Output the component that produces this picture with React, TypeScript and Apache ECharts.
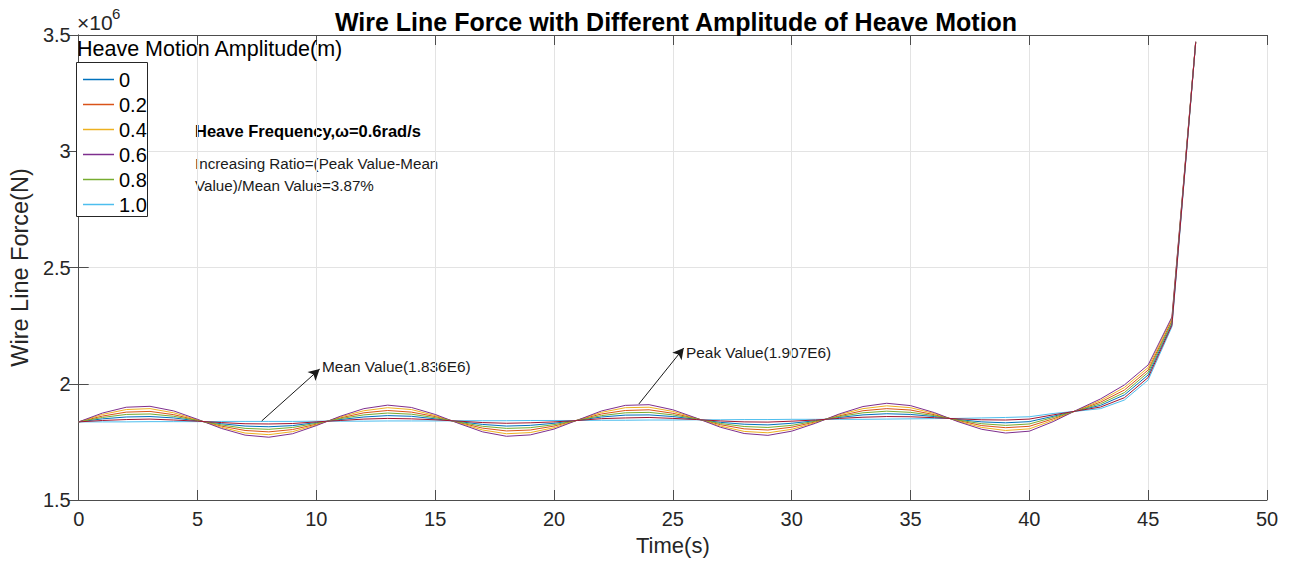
import React, { useEffect, useRef } from "react";
import * as echarts from "echarts";

const FONT = "'Liberation Sans', Arial, Helvetica, sans-serif";
const TXT = "#262626";

const times = [0,1,2,3,4,5,6,7,8,9,10,11,12,13,14,15,16,17,18,19,20,21,22,23,24,25,26,27,28,29,30,31,32,33,34,35,36,37,38,39,40,41,42,43,44,45,46,47];

// values in units of 1e6 N
const seriesBlue = [1.836,1.849,1.857,1.859,1.853,1.840,1.828,1.818,1.815,1.820,1.833,1.846,1.857,1.863,1.860,1.849,1.837,1.825,1.818,1.821,1.830,1.843,1.857,1.865,1.866,1.859,1.847,1.834,1.826,1.823,1.830,1.841,1.855,1.866,1.871,1.868,1.859,1.846,1.836,1.832,1.837,1.860,1.884,1.907,1.952,2.038,2.259,3.469];
const seriesOrange = [1.836,1.861,1.878,1.881,1.867,1.843,1.818,1.799,1.793,1.803,1.826,1.853,1.875,1.885,1.878,1.859,1.833,1.809,1.797,1.801,1.818,1.844,1.870,1.885,1.888,1.873,1.850,1.824,1.806,1.801,1.813,1.836,1.862,1.884,1.893,1.887,1.867,1.842,1.820,1.811,1.817,1.849,1.885,1.921,1.973,2.059,2.273,3.470];
const seriesYellow = [1.836,1.868,1.889,1.893,1.875,1.845,1.813,1.788,1.781,1.794,1.823,1.857,1.884,1.897,1.889,1.863,1.831,1.801,1.785,1.790,1.811,1.844,1.877,1.897,1.899,1.881,1.851,1.818,1.795,1.789,1.804,1.833,1.867,1.893,1.905,1.897,1.872,1.839,1.812,1.799,1.806,1.843,1.886,1.928,1.984,2.070,2.281,3.471];
const seriesPurple = [1.836,1.874,1.899,1.903,1.883,1.847,1.808,1.779,1.770,1.785,1.820,1.860,1.893,1.908,1.898,1.868,1.829,1.793,1.774,1.780,1.805,1.844,1.883,1.907,1.910,1.888,1.852,1.813,1.786,1.778,1.796,1.830,1.870,1.902,1.916,1.906,1.876,1.837,1.804,1.788,1.796,1.837,1.887,1.935,1.995,2.081,2.287,3.472];
const seriesGreen = [1.836,1.855,1.868,1.870,1.860,1.842,1.823,1.808,1.804,1.812,1.830,1.850,1.866,1.874,1.869,1.854,1.835,1.817,1.808,1.811,1.824,1.843,1.863,1.875,1.877,1.866,1.849,1.829,1.816,1.812,1.821,1.839,1.859,1.875,1.882,1.877,1.863,1.844,1.828,1.821,1.827,1.855,1.884,1.914,1.962,2.049,2.266,3.469];
const seriesCyan = [1.836,1.836,1.836,1.837,1.837,1.837,1.838,1.838,1.838,1.838,1.839,1.839,1.839,1.840,1.840,1.840,1.841,1.841,1.841,1.842,1.842,1.842,1.843,1.843,1.844,1.844,1.845,1.845,1.846,1.846,1.847,1.847,1.847,1.847,1.848,1.849,1.850,1.851,1.853,1.855,1.858,1.872,1.882,1.893,1.930,2.016,2.245,3.467];
const seriesDarkRed = [1.836,1.842,1.846,1.848,1.844,1.839,1.833,1.828,1.827,1.829,1.836,1.842,1.848,1.851,1.849,1.845,1.839,1.833,1.830,1.832,1.836,1.842,1.850,1.853,1.855,1.851,1.846,1.840,1.836,1.835,1.839,1.844,1.851,1.856,1.859,1.858,1.854,1.849,1.845,1.844,1.848,1.866,1.883,1.900,1.940,2.027,2.252,3.468];

const legendNames = ["0", "0.2", "0.4", "0.6", "0.8", "1.0"];
const yTicks = [1.5, 2, 2.5, 3, 3.5];
const xTicks = [0, 5, 10, 15, 20, 25, 30, 35, 40, 45, 50];

// annotation arrows [x, y(1e6 N)] start -> end
const meanArrow = [[7.70, 1.840], [10.14, 2.063]];
const peakArrow = [[23.57, 1.913], [25.46, 2.154]];

const seriesDefs = [
  { name: "0", color: "#0072BD", data: seriesBlue },
  { name: "0.2", color: "#D95319", data: seriesOrange },
  { name: "0.4", color: "#EDB120", data: seriesYellow },
  { name: "0.6", color: "#7E2F8E", data: seriesPurple },
  { name: "0.8", color: "#77AC30", data: seriesGreen },
  { name: "1.0", color: "#4DBEEE", data: seriesCyan },
  { name: "amp-extra", color: "#A2142F", data: seriesDarkRed },
];

export default function App() {
  const ref = useRef<HTMLDivElement>(null);
  useEffect(() => {
    if (!ref.current) return;
    const chart = echarts.init(ref.current, null, { renderer: "svg" });
    const axisColor = "#4d4d4d";
    const series: any[] = seriesDefs.map((s) => ({
      name: s.name,
      type: "line",
      symbol: "none",
      showSymbol: false,
      data: times.map((t, i) => [t, s.data[i]]),
      lineStyle: { color: s.color, width: 1 },
      itemStyle: { color: s.color },
      emphasis: { disabled: true },
    }));
    series[5].markLine = {
      silent: true,
      symbol: ["none", "arrow"],
      symbolSize: [9, 11],
      label: { show: false },
      lineStyle: { color: "#1a1a1a", width: 1, type: "solid" },
      data: [
        [{ coord: meanArrow[0] }, { coord: meanArrow[1] }],
        [{ coord: peakArrow[0] }, { coord: peakArrow[1] }],
      ],
    };
    chart.setOption({
      animation: false,
      backgroundColor: "#ffffff",
      textStyle: { fontFamily: FONT },
      title: {
        text: "Wire Line Force with Different Amplitude of Heave Motion",
        left: 671,
        textAlign: "center",
        top: 4,
        textStyle: { fontFamily: FONT, fontSize: 25, fontWeight: "bold", color: "#000" },
      },
      grid: { left: 76, right: 25, top: 35, bottom: 67 },
      legend: {
        data: legendNames,
        orient: "vertical",
        left: 83,
        top: 67,
        z: 6,
        icon: "rect",
        itemWidth: 31,
        itemHeight: 1.5,
        itemGap: 0,
        padding: 0,
        selectedMode: false,
        textStyle: { fontFamily: FONT, fontSize: 20, color: "#000", lineHeight: 25 },
      },
      xAxis: [
        {
          type: "value",
          min: 0,
          max: 50,
          interval: 5,
          name: "Time(s)",
          nameLocation: "middle",
          nameGap: 34,
          nameTextStyle: { fontFamily: FONT, fontSize: 22, color: TXT },
          axisLine: { show: true, lineStyle: { color: axisColor, width: 1 } },
          axisTick: { show: true, inside: true, length: 10, lineStyle: { color: axisColor } },
          axisLabel: { fontFamily: FONT, fontSize: 20, color: TXT, margin: 9 },
          splitLine: { show: true, lineStyle: { color: "#e3e3e3", width: 1 } },
        },
        {
          type: "value",
          position: "top",
          min: 0,
          max: 50,
          interval: 5,
          axisLine: { show: true, lineStyle: { color: axisColor, width: 1 } },
          axisTick: { show: true, inside: true, length: 10, lineStyle: { color: axisColor } },
          axisLabel: { show: false },
          splitLine: { show: false },
        },
      ],
      yAxis: [
        {
          type: "value",
          min: 1.5,
          max: 3.5,
          interval: 0.5,
          name: "Wire Line Force(N)",
          nameLocation: "middle",
          nameGap: 40,
          nameTextStyle: { fontFamily: FONT, fontSize: 23.5, color: TXT },
          axisLine: { show: true, lineStyle: { color: axisColor, width: 1 } },
          axisTick: { show: true, inside: true, length: 10, lineStyle: { color: axisColor } },
          axisLabel: {
            fontFamily: FONT,
            fontSize: 20,
            color: TXT,
            margin: 8,
            formatter: (v: number) => (yTicks.indexOf(v) >= 0 ? String(v) : ""),
          },
          splitLine: { show: true, lineStyle: { color: "#e3e3e3", width: 1 } },
        },
        {
          type: "value",
          position: "right",
          min: 1.5,
          max: 3.5,
          interval: 0.5,
          axisLine: { show: true, lineStyle: { color: axisColor, width: 1 } },
          axisTick: { show: true, inside: true, length: 10, lineStyle: { color: axisColor } },
          axisLabel: { show: false },
          splitLine: { show: false },
        },
      ],
      series,
      graphic: [
        {
          type: "text",
          left: 77,
          top: 12,
          style: { text: "×10", fontFamily: FONT, fontSize: 21, fill: TXT },
        },
        {
          type: "text",
          left: 112,
          top: 6,
          style: { text: "6", fontFamily: FONT, fontSize: 15, fill: TXT },
        },
        {
          type: "rect",
          shape: { x: 76.5, y: 62.5, width: 71, height: 154 },
          style: { fill: "#fff", stroke: "#262626", lineWidth: 1 },
          z: 3,
        },
        {
          type: "text",
          left: 77,
          top: 38,
          z: 6,
          style: { text: "Heave Motion Amplitude(m)", fontFamily: FONT, fontSize: 21.5, fill: "#000" },
        },
        {
          type: "text",
          left: 195,
          top: 122,
          style: { text: "Heave Frequency,ω=0.6rad/s", fontFamily: FONT, fontSize: 16.5, fontWeight: "bold", fill: "#000" },
        },
        {
          type: "text",
          left: 195,
          top: 152,
          style: {
            text: "Increasing Ratio=(Peak Value-Mean\nValue)/Mean Value=3.87%",
            fontFamily: FONT,
            fontSize: 15.2,
            lineHeight: 22,
            fill: "#1a1a1a",
          },
        },
        {
          type: "text",
          left: 322,
          top: 359,
          style: { text: "Mean Value(1.836E6)", fontFamily: FONT, fontSize: 15.4, fill: "#1a1a1a" },
        },
        {
          type: "text",
          left: 686,
          top: 345,
          style: { text: "Peak Value(1.907E6)", fontFamily: FONT, fontSize: 15.4, fill: "#1a1a1a" },
        },
      ],
    });
    return () => chart.dispose();
  }, []);
  return (
    <div
      ref={ref}
      style={{ position: "fixed", left: 0, top: 0, width: 1292, height: 567, background: "#fff" }}
    />
  );
}
